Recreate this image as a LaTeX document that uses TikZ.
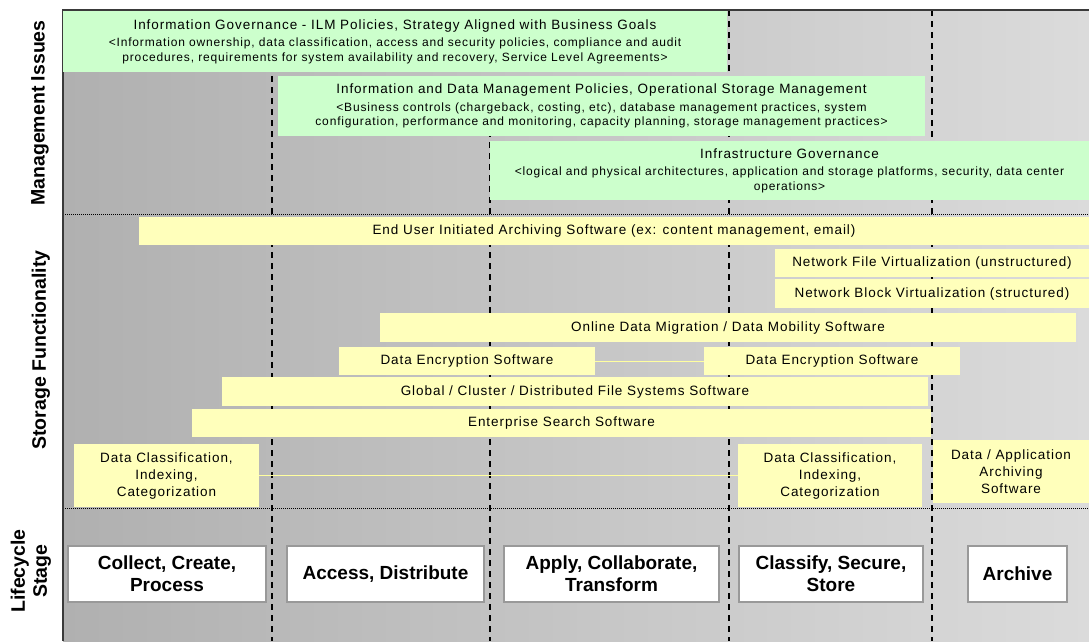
\documentclass[tikz,border=0pt]{standalone}
\usepackage{fontspec}
\setmainfont{Liberation Sans}
\newfontfamily\spc[LetterSpace=7]{Liberation Sans}
\definecolor{gfill}{HTML}{CCFFCC}
\definecolor{yfill}{HTML}{FFFFBB}
\definecolor{bgl}{HTML}{B0B0B0}
\definecolor{bgr}{HTML}{DBDBDB}
\definecolor{framec}{HTML}{3A3A3A}
\definecolor{lbord}{HTML}{999999}
\newcommand{\ttl}{\spc\fontsize{13.5}{15}\selectfont}
\newcommand{\sbt}{\spc\fontsize{12}{14.5}\selectfont}
\begin{document}
\begin{tikzpicture}[x=1pt,y=-1pt,
  gbox/.style={rectangle, fill=gfill, inner sep=0pt, align=center, font=\sbt},
  ybox/.style={rectangle, fill=yfill, inner sep=0pt, align=center, font=\spc\fontsize{13.5}{17}\selectfont},
  lbox/.style={rectangle, fill=white, draw=lbord, line width=1.2pt, inner sep=0pt, align=center, font=\fontsize{19}{22}\selectfont\bfseries, minimum height=56pt},
  rowlabel/.style={rotate=90, align=center, inner sep=0pt, font=\fontsize{19.5}{22}\selectfont\bfseries},
  stagesep/.style={draw=black, line width=1.1pt, dash pattern=on 6pt off 5pt},
  rowsep/.style={draw=black, line width=0.9pt, dash pattern=on 1pt off 1pt},
  link/.style={draw=yfill!85!yellow, line width=1pt}]

\useasboundingbox (0,0) rectangle (1089,641);
\fill[white] (0,0) rectangle (1089,641);
\shade[left color=bgl, right color=bgr] (63,10) rectangle (1089,641);

\foreach \x in {272,490,729,932} \draw[stagesep] (\x,10) -- (\x,641);
\foreach \y in {214,508} \draw[rowsep] (63,\y) -- (1089,\y);
\draw[framec, line width=2pt] (63,641) -- (63,10) -- (1089,10);

% row labels
\node[rowlabel] (mgmt) at (40,113) {Management Issues};
\node[rowlabel] (stor) at (41,350) {Storage Functionality};
\node[rowlabel] (life) at (31,571) {Lifecycle\\Stage};

% management issues
\node[gbox, minimum width=664pt, minimum height=61pt] (ig) at (395,41.5)
  {\ttl Information Governance - ILM Policies, Strategy Aligned with Business Goals\\[3pt]
   \sbt <Information ownership, data classification, access and security policies, compliance and audit\\
   \sbt procedures, requirements for system availability and recovery, Service Level Agreements>};
\node[gbox, minimum width=647pt, minimum height=60pt] (idm) at (601.5,106)
  {\ttl Information and Data Management Policies, Operational Storage Management\\[3pt]
   \sbt <Business controls (chargeback, costing, etc), database management practices, system\\
   \sbt configuration, performance and monitoring, capacity planning, storage management practices>};
\node[gbox, minimum width=599pt, minimum height=59pt] (infra) at (789.5,170.5)
  {\ttl Infrastructure Governance\\[3pt]
   \sbt <logical and physical architectures, application and storage platforms, security, data center\\
   \sbt operations>};

% storage functionality
\node[ybox, minimum width=950pt, minimum height=28pt] (eu) at (614,231)
  {End User Initiated Archiving Software (ex: content management, email)};
\node[ybox, minimum width=314pt, minimum height=28pt] (nfv) at (932,263)
  {Network File Virtualization (unstructured)};
\node[ybox, minimum width=314pt, minimum height=29pt] (nbv) at (932,293.5)
  {Network Block Virtualization (structured)};
\node[ybox, minimum width=696pt, minimum height=29pt] (odm) at (728,327.5)
  {Online Data Migration / Data Mobility Software};
\node[ybox, minimum width=256pt, minimum height=28pt] (enc1) at (467,361)
  {Data Encryption Software};
\node[ybox, minimum width=256pt, minimum height=28pt] (enc2) at (832,361)
  {Data Encryption Software};
\node[ybox, minimum width=706pt, minimum height=29pt] (gcd) at (575,391.5)
  {Global / Cluster / Distributed File Systems Software};
\node[ybox, minimum width=739pt, minimum height=28pt] (ess) at (561.5,423)
  {Enterprise Search Software};
\node[ybox, minimum width=185pt, minimum height=63pt] (dc1) at (166.5,475.5)
  {Data Classification,\\Indexing,\\Categorization};
\node[ybox, minimum width=184pt, minimum height=63pt] (dc2) at (830,475.5)
  {Data Classification,\\Indexing,\\Categorization};
\node[ybox, minimum width=156pt, minimum height=63pt] (daa) at (1011,471.5)
  {Data / Application\\Archiving\\Software};
\draw[link] (enc1.east) -- (enc2.west);
\draw[link] (dc1.east) -- (dc2.west);

% lifecycle stages
\node[lbox, minimum width=198pt] (collect) at (167,574) {Collect, Create,\\Process};
\node[lbox, minimum width=197pt] (access) at (385.5,574) {Access, Distribute};
\node[lbox, minimum width=215pt] (apply) at (611.5,574) {Apply, Collaborate,\\Transform};
\node[lbox, minimum width=184pt] (classify) at (831,574) {Classify, Secure,\\Store};
\node[lbox, minimum width=99pt] (archive) at (1017.5,574) {Archive};
\end{tikzpicture}
\end{document}
